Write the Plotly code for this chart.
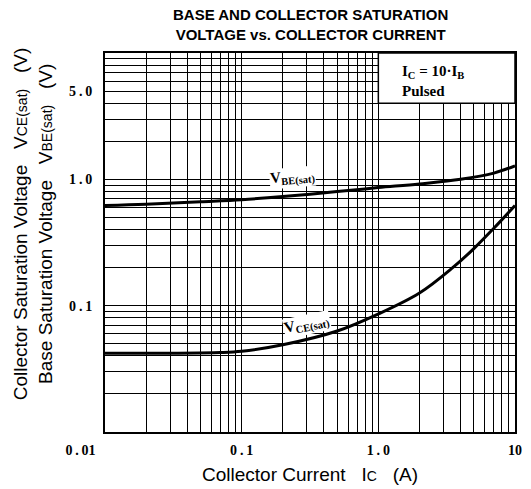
import numpy as np
import plotly.graph_objects as go

# ---- data ----
ic_vbe = [0.01, 0.02, 0.05, 0.1, 0.2, 0.5, 1.0, 2.0, 4.0, 7.0, 10.0]
vbe_sat = [0.62, 0.635, 0.665, 0.69, 0.73, 0.80, 0.86, 0.92, 1.0, 1.12, 1.28]

ic_vce = [0.01, 0.03, 0.07, 0.1, 0.2, 0.5, 1.0, 2.0, 3.5, 5.0, 7.0, 10.0]
vce_sat = [0.042, 0.042, 0.0425, 0.0435, 0.049, 0.063, 0.086, 0.126, 0.20, 0.283, 0.41, 0.62]

TS = "\u2009"  # thin space, mimics the spaced-out typewriter labels
x_tick_vals = [0.01, 0.1, 1.0, 10.0]
x_tick_text = ["0" + TS + "." + TS + "01" + "\u00a0" * 14, "0" + TS + "." + TS + "1",
               "1" + TS + "." + TS + "0", "10"]
y_tick_vals = [0.1, 1.0, 5.0]
y_tick_text = ["0" + TS + "." + TS + "1", "1" + TS + "." + TS + "0", "5" + TS + "." + TS + "0"]


def log_grid(lo_exp, hi_exp):
    vals = []
    for e in range(lo_exp, hi_exp):
        for m in range(1, 10):
            vals.append(round(m * 10 ** e, 6))
    vals.append(round(10 ** hi_exp, 6))
    return vals


xgrid = [v for v in log_grid(-2, 1) if v not in x_tick_vals]
ygrid = [v for v in log_grid(-2, 1) if v not in y_tick_vals]

serif = "Liberation Serif"
sans = "Liberation Sans"

fig = go.Figure()
fig.add_trace(go.Scatter(x=ic_vbe, y=vbe_sat, mode="lines",
                         line=dict(color="black", width=3, shape="spline"),
                         showlegend=False, hoverinfo="skip"))
fig.add_trace(go.Scatter(x=ic_vce, y=vce_sat, mode="lines",
                         line=dict(color="black", width=3, shape="spline"),
                         showlegend=False, hoverinfo="skip"))

axis_common = dict(type="log", showgrid=True, gridcolor="black", gridwidth=1.4,
                   showline=True, linecolor="black", linewidth=2, mirror=True,
                   ticks="", zeroline=False,
                   tickfont=dict(family=serif, size=14, color="black", weight="bold"))

fig.update_xaxes(range=[-2, 1], tickmode="array", tickvals=x_tick_vals, ticktext=x_tick_text,
                 minor=dict(tickmode="array", tickvals=xgrid, showgrid=True,
                            gridcolor="black", gridwidth=1.4, ticks=""),
                 ticklabelstandoff=4, **axis_common)
fig.update_yaxes(range=[-2, 1], tickmode="array", tickvals=y_tick_vals, ticktext=y_tick_text,
                 minor=dict(tickmode="array", tickvals=ygrid, showgrid=True,
                            gridcolor="black", gridwidth=1.4, ticks=""),
                 ticklabelstandoff=8, **axis_common)

# white box for the condition note
fig.add_shape(type="rect", xref="paper", yref="paper", x0=2/3, x1=1,
              y0=(np.log10(4) + 2) / 3, y1=1, fillcolor="white",
              line=dict(color="black", width=1.5), layer="above")

NB = "\u00a0"
annos = [
    dict(text="BASE AND COLLECTOR SATURATION<br>VOLTAGE vs. COLLECTOR CURRENT",
         xref="paper", yref="paper", x=0.502, y=1.0765, xanchor="center", yanchor="middle",
         showarrow=False, font=dict(family=sans, size=15, color="black", weight="bold"),
         align="center"),
    dict(text="Collector Current" + NB * 3 + "I<span style='font-size:14px'>C</span>" + NB * 3 + "(A)",
         xref="paper", yref="paper", x=0.5, y=-0.113, xanchor="center", yanchor="middle",
         showarrow=False, font=dict(family=sans, size=19, color="black")),
    dict(text="Collector Saturation Voltage" + NB * 3 + "V<span style='font-size:14px'>CE(sat)</span>" + NB * 3 + "(V)",
         xref="paper", yref="paper", x=-0.204, y=0.549, xanchor="center", yanchor="middle",
         textangle=-90, showarrow=False, font=dict(family=sans, size=19, color="black")),
    dict(text="Base Saturation Voltage" + NB * 3 + "V<span style='font-size:14px'>BE(sat)</span>" + NB * 3 + "(V)",
         xref="paper", yref="paper", x=-0.144, y=0.549, xanchor="center", yanchor="middle",
         textangle=-90, showarrow=False, font=dict(family=sans, size=19, color="black")),
    dict(text="<b>I<sub>C</sub> = 10·I<sub>B</sub><br>Pulsed</b>",
         xref="paper", yref="paper", x=0.719, y=0.926, xanchor="left", yanchor="middle",
         align="left", showarrow=False, font=dict(family=serif, size=15, color="black")),
    dict(text="<b>V<sub>BE(sat)</sub></b>", x=np.log10(0.237), y=np.log10(1.04),
         xref="x", yref="y", showarrow=False, textangle=-5, bgcolor="white",
         font=dict(family=serif, size=15, color="black"), borderpad=0),
    dict(text="<b>V<sub>CE(sat)</sub></b>", x=np.log10(0.303), y=np.log10(0.0707),
         xref="x", yref="y", showarrow=False, textangle=-12, bgcolor="white",
         font=dict(family=serif, size=15, color="black"), borderpad=0),
]

fig.update_layout(width=531, height=489, margin=dict(l=105, r=9, t=53, b=57),
                  paper_bgcolor="white", plot_bgcolor="white", annotations=annos,
                  showlegend=False, hovermode=False)

fig.write_html("out.html", config={"displayModeBar": False},
               post_script="document.body.style.margin='0px';")
